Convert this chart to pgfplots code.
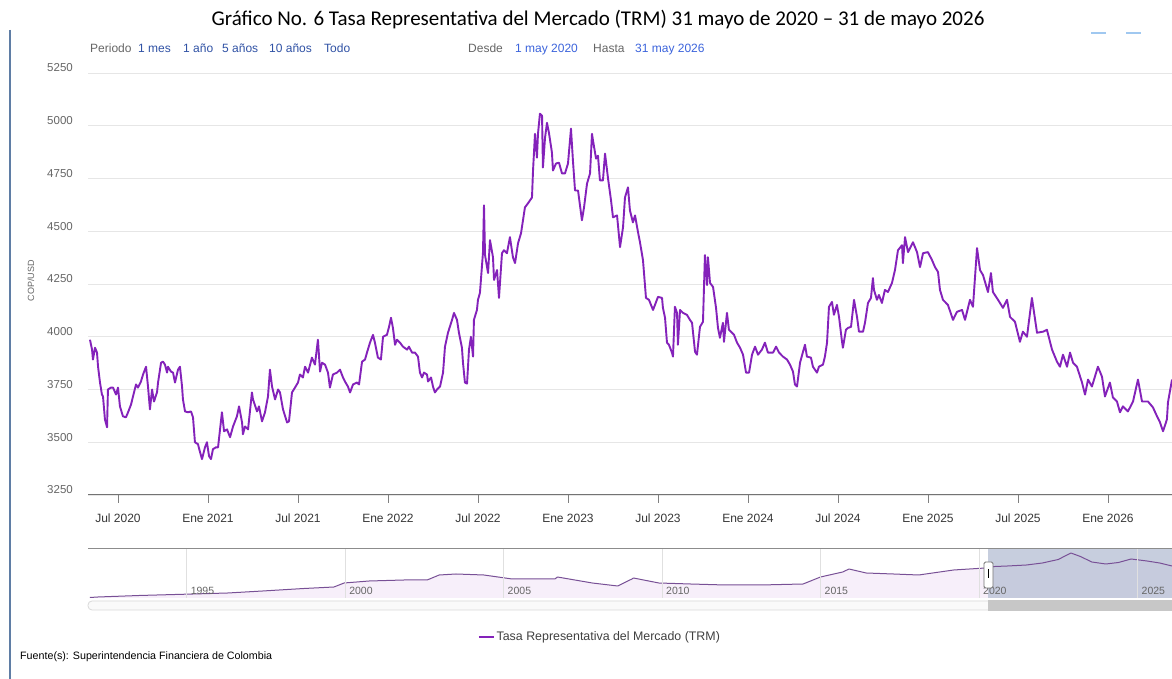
\documentclass[border=0pt]{standalone}
\usepackage{pgfplots}
\usepackage{pgfplotstable}
\pgfplotsset{compat=1.18}
\usepackage{fontspec}
\setmainfont{Liberation Sans}
\newfontfamily\titlefont{Carlito}
\pgfplotsset{/pgf/number format/1000 sep={}, /pgf/number format/assume math mode=true}

\definecolor{trm}{RGB}{132,34,186}
\definecolor{gridc}{RGB}{230,230,230}
\definecolor{lbl}{RGB}{102,102,102}
\definecolor{xlbl}{RGB}{55,55,55}
\definecolor{navfill}{RGB}{247,239,250}
\definecolor{navline}{RGB}{120,80,150}
\definecolor{sel}{RGB}{186,194,214}
\definecolor{btn}{RGB}{48,82,165}
\definecolor{datec}{RGB}{60,100,220}
\definecolor{sidebar}{RGB}{95,125,165}
\definecolor{dashc}{RGB}{160,200,240}

\pgfplotstableread{
m v
0.13 3986
0.27 3939
0.33 3892
0.47 3948
0.6 3925
0.67 3858
0.8 3783
0.93 3726
1.0 3717
1.13 3608
1.27 3571
1.33 3750
1.53 3759
1.67 3759
1.87 3726
2.0 3759
2.13 3670
2.33 3623
2.53 3618
2.67 3642
2.87 3679
3.0 3717
3.2 3774
3.33 3759
3.53 3788
3.67 3821
3.87 3858
4.0 3764
4.13 3656
4.27 3750
4.4 3693
4.6 3736
4.67 3783
4.87 3877
5.0 3882
5.13 3868
5.27 3830
5.33 3858
5.53 3835
5.67 3830
5.8 3783
6.0 3844
6.13 3858
6.27 3764
6.33 3703
6.47 3646
6.67 3642
6.87 3646
7.0 3618
7.13 3500
7.33 3491
7.47 3453
7.6 3420
7.8 3476
7.93 3500
8.07 3434
8.2 3420
8.33 3467
8.53 3476
8.67 3476
8.93 3642
9.07 3552
9.27 3561
9.47 3524
9.67 3575
9.93 3623
10.07 3670
10.27 3594
10.33 3538
10.47 3575
10.67 3561
10.93 3736
11.0 3703
11.27 3646
11.4 3670
11.6 3599
11.8 3642
12.0 3717
12.13 3844
12.27 3764
12.47 3703
12.67 3750
12.8 3736
13.0 3656
13.27 3594
13.4 3599
13.6 3736
13.8 3759
14.0 3783
14.13 3821
14.33 3807
14.47 3858
14.67 3830
14.93 3901
15.13 3868
15.33 3986
15.47 3835
15.6 3877
15.8 3868
16.0 3830
16.13 3759
16.33 3821
16.6 3830
16.8 3844
17.0 3807
17.13 3788
17.33 3764
17.47 3736
17.67 3774
17.93 3783
18.07 3774
18.27 3882
18.47 3892
18.6 3925
18.8 3972
19.0 4009
19.13 3972
19.33 3901
19.53 3892
19.67 4000
19.93 4009
20.07 4047
20.2 4090
20.33 4042
20.47 3962
20.6 3986
20.8 3972
21.0 3953
21.27 3939
21.4 3953
21.6 3925
21.8 3925
22.0 3906
22.13 3830
22.27 3807
22.4 3830
22.6 3821
22.67 3788
22.87 3807
23.0 3764
23.13 3736
23.27 3750
23.47 3764
23.67 3830
23.8 3953
24.0 4019
24.27 4080
24.4 4113
24.6 4080
24.73 4019
24.93 3948
25.0 3877
25.13 3783
25.27 3778
25.4 3939
25.53 4000
25.67 3906
25.73 4080
25.93 4127
26.0 4175
26.13 4208
26.33 4396
26.4 4623
26.47 4387
26.67 4302
26.8 4458
27.0 4377
27.07 4269
27.27 4316
27.4 4184
27.6 4396
27.73 4410
27.93 4396
28.13 4472
28.33 4377
28.47 4349
28.67 4443
28.87 4491
29.0 4552
29.13 4613
29.33 4632
29.6 4660
29.67 4788
29.8 4962
29.93 4849
30.0 4962
30.13 5057
30.27 5047
30.33 4802
30.47 4943
30.6 5014
30.73 4967
30.93 4873
31.0 4788
31.2 4821
31.4 4825
31.6 4774
31.8 4774
32.0 4821
32.2 4986
32.33 4835
32.47 4693
32.67 4693
32.93 4552
33.07 4613
33.27 4726
33.47 4774
33.6 4962
33.67 4929
33.87 4844
34.0 4858
34.13 4741
34.33 4741
34.47 4868
34.67 4750
34.87 4646
35.0 4566
35.27 4575
35.47 4425
35.67 4519
35.8 4660
36.0 4708
36.13 4599
36.33 4542
36.47 4575
36.67 4495
36.8 4448
37.0 4363
37.2 4184
37.4 4175
37.67 4127
37.8 4151
38.0 4189
38.27 4184
38.33 4137
38.47 4090
38.6 3972
38.73 3962
38.93 3925
39.0 3906
39.13 4142
39.27 4113
39.33 3962
39.47 4127
39.67 4113
39.93 4104
40.13 4080
40.27 4066
40.47 3929
40.6 3915
40.8 4047
41.0 4071
41.13 4387
41.27 4245
41.33 4377
41.47 4255
41.67 4236
41.87 4137
42.0 4042
42.13 3995
42.33 4066
42.4 3976
42.6 4113
42.73 4033
42.93 4019
43.07 4009
43.27 3972
43.47 3948
43.67 3915
43.87 3830
44.07 3830
44.27 3915
44.47 3953
44.67 3915
44.93 3939
45.13 3972
45.33 3925
45.67 3925
45.87 3953
46.07 3925
46.33 3906
46.6 3892
46.8 3868
47.0 3835
47.13 3774
47.27 3764
47.47 3877
47.67 3929
47.8 3962
47.93 3906
48.2 3901
48.33 3858
48.6 3830
48.73 3858
49.0 3868
49.13 3906
49.27 3972
49.4 4142
49.6 4165
49.73 4104
49.93 4151
50.07 4094
50.27 3976
50.33 3948
50.53 4033
50.67 4042
50.87 4047
51.07 4175
51.27 4094
51.4 4024
51.67 4024
51.8 4066
52.0 4160
52.2 4184
52.33 4278
52.4 4222
52.6 4175
52.73 4198
52.93 4160
53.13 4222
53.33 4212
53.6 4255
53.8 4316
54.0 4410
54.27 4434
54.33 4349
54.47 4472
54.67 4401
55.0 4448
55.27 4401
55.47 4330
55.67 4396
56.0 4401
56.27 4363
56.47 4330
56.67 4307
56.8 4222
57.0 4175
57.33 4151
57.67 4080
57.93 4118
58.27 4127
58.47 4080
58.8 4175
59.0 4142
59.27 4420
59.47 4316
59.67 4292
60.0 4212
60.2 4302
60.33 4212
60.67 4175
61.0 4137
61.27 4175
61.47 4094
61.8 4071
62.13 3976
62.33 4024
62.6 4000
62.93 4184
63.27 4019
63.67 4024
63.93 4033
64.27 3939
64.6 3882
64.8 3858
65.0 3915
65.27 3858
65.47 3925
65.67 3877
65.93 3858
66.27 3783
66.47 3726
66.67 3797
66.93 3764
67.13 3811
67.33 3858
67.6 3811
67.8 3717
68.13 3783
68.33 3712
68.6 3693
68.8 3642
69.0 3670
69.33 3646
69.67 3693
70.0 3797
70.27 3693
70.67 3693
71.0 3665
71.27 3623
71.47 3594
71.67 3552
71.93 3608
72.0 3689
72.27 3797
}\maindata

\pgfplotstableread{
yr v
1991.95 600
1992.2 650
1993.5 800
1995.2 950
1996.3 1050
1997.4 1250
1998.7 1500
1999.65 1650
1999.97 2050
2000.76 2250
2001.86 2350
2002.59 2350
2002.97 2850
2003.5 2950
2004.38 2850
2005.27 2450
2006.62 2450
2006.7 2650
2007.8 2050
2008.6 1750
2009.05 2450
2009.1 2550
2009.9 2050
2010.9 1950
2012.0 1850
2013.1 1850
2014.45 1950
2015.0 2650
2015.7 3150
2015.9 3450
2016.44 3050
2017.3 2950
2018.1 2850
2019.2 3350
2020.2 3550
2020.5 3700
2020.9 3750
2021.5 3850
2022.0 4050
2022.5 4400
2022.9 5050
2023.2 4700
2023.56 4150
2024.0 3950
2024.4 4100
2024.8 4450
2025.3 4250
2025.7 4050
2026.09 3750
}\navdata

\begin{document}
\begin{tikzpicture}[x=1pt,y=1pt]
\path[use as bounding box] (0,0) rectangle (1172,679);
\fill[white] (0,0) rectangle (1172,679);

% left side bar and top-right dashes
\draw[sidebar, line width=2pt] (10,649) -- (10,0);
\draw[dashc, line width=1.5pt] (1091,646) -- (1106,646);
\draw[dashc, line width=1.5pt] (1126,646) -- (1141,646);

% title
\node[anchor=base, inner sep=0pt, font=\titlefont\fontsize{21}{22}\selectfont] at (598,653)
  {Gráfico No. 6 Tasa Representativa del Mercado (TRM) 31 mayo de 2020 – 31 de mayo 2026};

% range selector texts
\begin{scope}[every node/.style={anchor=base west, inner sep=0pt, font=\fontsize{12}{13}\selectfont}]
\node[text=lbl] at (90,626) {Periodo};
\node[text=btn] at (138,626) {1 mes};
\node[text=btn] at (183,626) {1 año};
\node[text=btn] at (222,626) {5 años};
\node[text=btn] at (269,626) {10 años};
\node[text=btn] at (324,626) {Todo};
\node[text=lbl] at (468,626) {Desde};
\node[text=datec] at (515,626) {1 may 2020};
\node[text=lbl] at (593,626) {Hasta};
\node[text=datec] at (635,626) {31 may 2026};
\end{scope}

% y axis title
\node[rotate=90, text=lbl, inner sep=0pt, font=\fontsize{9}{10}\selectfont] at (31,398) {COP/USD};

% main chart
\begin{axis}[at={(88pt,184pt)}, anchor=south west, scale only axis,
  width=1084pt, height=422pt,
  xmin=0, xmax=72.27, ymin=3250, ymax=5250,
  axis x line*=bottom, axis y line*=left,
  x axis line style={draw=black!55, line width=1pt, -},
  y axis line style={draw=none, -},
  ytick={3250,3500,...,5250},
  xtick={2,8,...,68},
  xticklabels={Jul 2020,Ene 2021,Jul 2021,Ene 2022,Jul 2022,Ene 2023,Jul 2023,Ene 2024,Jul 2024,Ene 2025,Jul 2025,Ene 2026},
  tick align=inside, major tick length=8pt,
  xtick style={draw=black!50, line width=0.8pt, yshift=-8pt},
  ytick style={draw=none},
  ymajorgrids, grid style={draw=gridc, line width=0.8pt},
  yticklabel style={anchor=east, inner sep=0pt, xshift=-15pt, yshift=5pt, text=lbl, font=\fontsize{11.5}{12}\selectfont},
  xticklabel style={anchor=north, inner sep=0pt, yshift=-19pt, text=xlbl, font=\fontsize{12}{13}\selectfont},
  legend style={at={(0.4723,-0.3365)}, anchor=center, draw=none, fill=none,
    font=\fontsize{12.4}{13}\selectfont, text=black!75, inner sep=0pt},
  legend image code/.code={\draw[#1, line width=1.6pt] (0pt,0pt) -- (15pt,0pt);},
]
\addplot[trm, line width=1.9pt, line join=round] table[x=m, y=v] {\maindata};
\addlegendentry{Tasa Representativa del Mercado (TRM)}
\end{axis}

% navigator
\begin{axis}[at={(88pt,81pt)}, anchor=south west, scale only axis,
  width=1084pt, height=50pt,
  xmin=1991.89, xmax=2026.09, ymin=550, ymax=5550,
  axis on top,
  axis line style={draw=none},
  ytick=\empty,
  xtick={1995,2000,...,2025},
  xmajorgrids, grid style={draw=black!12, line width=0.7pt},
  tick align=inside, major tick length=0pt, xtick style={draw=none},
  xticklabel style={anchor=south west, inner sep=0pt, xshift=4pt, yshift=3pt, text=lbl, font=\fontsize{10.5}{11}\selectfont},
]
\addplot[fill=navfill, draw=none] table[x=yr, y=v] {\navdata} \closedcycle;
\fill[sel, opacity=0.8] (axis cs:2020.28,550) rectangle (axis cs:2026.09,5550);
\addplot[navline, line width=1pt, line join=round] table[x=yr, y=v] {\navdata};
\end{axis}
\draw[black!45, line width=0.8pt] (88,131) -- (1172,131);
% handle
\draw[fill=white, draw=black!55, rounded corners=1.5pt, line width=0.8pt] (984,117) rectangle (993,91);
\fill[black] (987.6,110) rectangle (989.4,101);
% scrollbar
\draw[black!15, fill=black!2, rounded corners=4pt, line width=0.8pt] (88,78) rectangle (1172,69);
\fill[black!22] (988,79) rectangle (1172,68);

% source
\node[anchor=base west, inner sep=0pt, font=\fontsize{10.7}{11}\selectfont] at (20,19) {Fuente(s): Superintendencia Financiera de Colombia};
\end{tikzpicture}
\end{document}
